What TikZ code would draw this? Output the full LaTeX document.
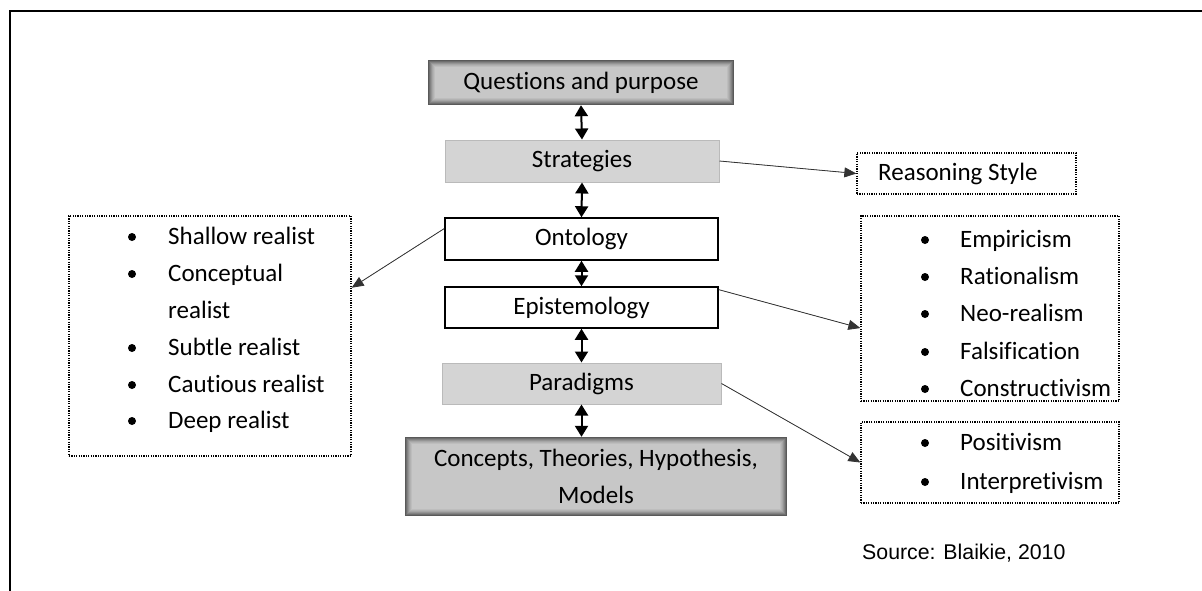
\documentclass[tikz,border=0pt]{standalone}
\usepackage{fontspec}
\setmainfont[RawFeature=-liga]{Carlito}
\newfontfamily\arialfont{Liberation Sans}
\usetikzlibrary{arrows.meta,calc}
\begin{document}
\begin{tikzpicture}[x=1pt,y=-1pt,
  every node/.style={font=\fontsize{25}{29}\selectfont, inner sep=0pt},
  glowbox/.style={fill=black!22, align=center,
    path picture={
      \foreach \i/\c in {0/65,1/57,2/49,3/42,4/35,5/30,6/26}{
        \draw[line width=1pt, black!\c]
          ([xshift={\i*1pt+0.5pt},yshift={\i*1pt+0.5pt}]path picture bounding box.south west)
          rectangle
          ([xshift={-\i*1pt-0.5pt},yshift={-\i*1pt-0.5pt}]path picture bounding box.north east);
      }}},
  flatbox/.style={fill=black!17, draw=black!27, line width=1pt},
  whitebox/.style={fill=white, draw=black, line width=1.5pt},
  dotbox/.style={draw=black, line width=1.3pt, dash pattern=on 1.2pt off 1.2pt},
  item/.style={anchor=west, text height=19pt, text depth=5pt},
  bothway/.style={{Triangle[length=11pt,width=13pt]}-{Triangle[length=11pt,width=13pt]}, line width=2pt},
  pointer/.style={-{Triangle[length=12pt,width=10pt]}, line width=0.8pt, draw=black!80, fill=black},
  bul/.style={fill=black}
]
\useasboundingbox (0,0) rectangle (1202,590);
% outer frame
\draw[line width=2.5pt, line cap=rect] (1202,11) -- (10,11) -- (10,590);

% central column
\node[glowbox, minimum width=306pt, minimum height=45pt] (q) at (581,82.5) {Questions and purpose};
\node[flatbox, minimum width=274pt, minimum height=42pt] (s) at (582,161) {Strategies};
\node[whitebox, minimum width=273pt, minimum height=42pt] (o) at (581.5,239) {Ontology};
\node[whitebox, minimum width=273pt, minimum height=41pt] (e) at (581.5,307.5) {Epistemology};
\node[flatbox, minimum width=279pt, minimum height=41pt] (p) at (581.5,383.5) {Paradigms};
\node[glowbox, minimum width=382pt, minimum height=79pt, font=\fontsize{25}{37}\selectfont] (c) at (596,476.5) {Concepts, Theories, Hypothesis,\\Models};

\draw[bothway] (q.south) -- (s.north);
\draw[bothway] (s.south) -- (o.north);
\draw[bothway] (o.south) -- (e.north);
\draw[bothway] (e.south) -- (p.north);
\draw[bothway] (p.south) -- (p.south |- c.north);

% side boxes
\node[dotbox, minimum width=282pt, minimum height=240pt] (L) at (210,336) {};
\node[dotbox, minimum width=219pt, minimum height=41pt] (R) at (966.5,173.5) {};
\node[anchor=west] (rtext) at (878,173.5) {Reasoning Style};
\node[dotbox, minimum width=258pt, minimum height=185pt] (EL) at (990,308.5) {};
\node[dotbox, minimum width=258pt, minimum height=81pt] (PL) at (990,462.5) {};

% left list
\node[item] (l1) at (168,237) {Shallow realist};
\node[item] (l2) at (168,274) {Conceptual};
\node[item] (l3) at (168,311) {realist};
\node[item] (l4) at (168,348) {Subtle realist};
\node[item] (l5) at (168,385) {Cautious realist};
\node[item] (l6) at (168,421) {Deep realist};
\foreach \y in {237,274,348,385,421} \fill[bul] (132,\y) circle (4pt);

% right list 1
\node[item] (r1) at (960,240) {Empiricism};
\node[item] (r2) at (960,277) {Rationalism};
\node[item] (r3) at (960,314) {Neo-realism};
\node[item] (r4) at (960,352) {Falsification};
\node[item] (r5) at (960,389) {Constructivism};
\foreach \y in {240,277,314,352,389} \fill[bul] (925,\y) circle (4pt);

% right list 2
\node[item] (p1) at (960,443) {Positivism};
\node[item] (p2) at (960,482) {Interpretivism};
\foreach \y in {443,482} \fill[bul] (925,\y) circle (4pt);

% pointers
\draw[pointer] ($(o.north west)!0.26!(o.south west)$) -- ($(L.north east)!0.3!(L.south east)$);
\draw[pointer] (s.east) -- (R.west);
\draw[pointer] ($(e.north east)!0.08!(e.south east)$) -- ($(EL.north west)!0.605!(EL.south west)$);
\draw[pointer] (p.east) -- (PL.west);

% source
\node[anchor=west, font=\arialfont\fontsize{21.3}{25}\selectfont] (src) at (862,553) {Source: Blaikie, 2010};
\end{tikzpicture}
\end{document}
